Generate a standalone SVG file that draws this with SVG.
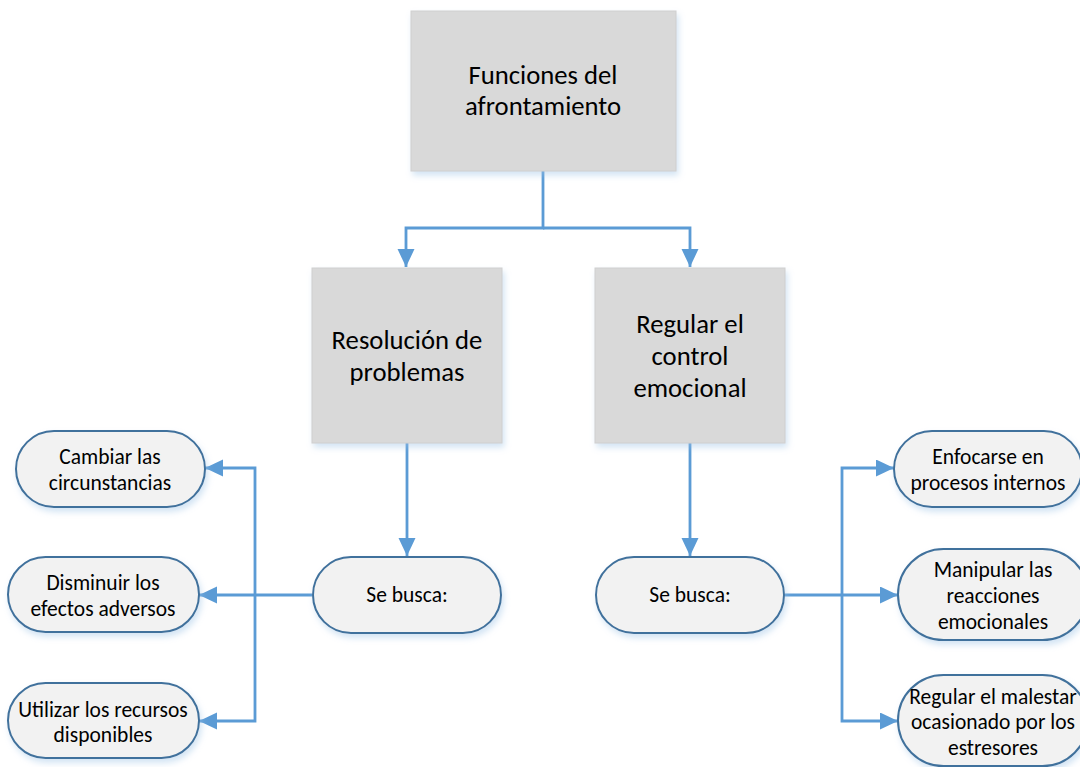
<svg xmlns="http://www.w3.org/2000/svg" width="1080" height="767" viewBox="0 0 1080 767">
<defs>
<filter id="sh" x="-10%" y="-10%" width="130%" height="130%">
<feGaussianBlur in="SourceAlpha" stdDeviation="3"/>
<feOffset dx="2" dy="4" result="b"/>
<feFlood flood-color="#9dc3e6" flood-opacity="0.45"/>
<feComposite in2="b" operator="in"/>
<feMerge><feMergeNode/><feMergeNode in="SourceGraphic"/></feMerge>
</filter>
<marker id="ah" markerWidth="19" markerHeight="19" refX="18" refY="8.5" orient="auto" markerUnits="userSpaceOnUse">
<path d="M0,0 L18,8.5 L0,17 Z" fill="#5b9bd5"/>
</marker>
</defs>
<style>
.box{fill:#d9d9d9;stroke:#cfcfcf;stroke-width:1}
.pill{fill:#f2f2f2;stroke:#41719c;stroke-width:2}
.t{font-family:Carlito,Lato,"Liberation Sans",sans-serif;fill:#000;text-anchor:middle}
.big{font-size:26.7px}
.sm{font-size:21.5px}
.c{fill:none;stroke:#5b9bd5;stroke-width:2.8}
</style>
<rect width="1080" height="767" fill="#fff"/>
<g id="connectors">
<path class="c" d="M543,171 V228 H406 V267" marker-end="url(#ah)"/>
<path class="c" d="M543,228 H690 V267" marker-end="url(#ah)"/>
<path class="c" d="M407,443 V556" marker-end="url(#ah)"/>
<path class="c" d="M690,443 V556" marker-end="url(#ah)"/>
<path class="c" d="M312,595 H199" marker-end="url(#ah)"/>
<path class="c" d="M255,595 V468 H205" marker-end="url(#ah)"/>
<path class="c" d="M255,595 V721 H199" marker-end="url(#ah)"/>
<path class="c" d="M785,595 H898" marker-end="url(#ah)"/>
<path class="c" d="M842,595 V468 H894" marker-end="url(#ah)"/>
<path class="c" d="M842,595 V721 H898" marker-end="url(#ah)"/>
</g>
<g id="n-funciones">
<rect class="box" x="411" y="11" width="265" height="160" filter="url(#sh)"/>
<text class="t big" x="543" y="84">Funciones del</text>
<text class="t big" x="543" y="115">afrontamiento</text>
</g>
<g id="n-resolucion">
<rect class="box" x="312" y="268" width="190" height="175" filter="url(#sh)"/>
<text class="t big" x="407" y="349">Resolución de</text>
<text class="t big" x="407" y="381">problemas</text>
</g>
<g id="n-regular">
<rect class="box" x="595" y="268" width="190" height="175" filter="url(#sh)"/>
<text class="t big" x="690" y="333">Regular el</text>
<text class="t big" x="690" y="365">control</text>
<text class="t big" x="690" y="397">emocional</text>
</g>
<g id="n-sebusca-left">
<rect class="pill" x="313" y="557" width="188" height="76" rx="38" filter="url(#sh)"/>
<text class="t sm" x="407" y="602">Se busca:</text>
</g>
<g id="n-sebusca-right">
<rect class="pill" x="596" y="557" width="188" height="76" rx="38" filter="url(#sh)"/>
<text class="t sm" x="690" y="602">Se busca:</text>
</g>
<g id="n-cambiar">
<rect class="pill" x="16" y="431" width="189" height="76" rx="38" filter="url(#sh)"/>
<text class="t sm" x="110" y="464">Cambiar las</text>
<text class="t sm" x="110" y="490">circunstancias</text>
</g>
<g id="n-disminuir">
<rect class="pill" x="8" y="557" width="191" height="75" rx="37.5" filter="url(#sh)"/>
<text class="t sm" x="103" y="590">Disminuir los</text>
<text class="t sm" x="103" y="616">efectos adversos</text>
</g>
<g id="n-utilizar">
<rect class="pill" x="8" y="683" width="191" height="75" rx="37.5" filter="url(#sh)"/>
<text class="t sm" x="103" y="717">Utilizar los recursos</text>
<text class="t sm" x="103" y="742">disponibles</text>
</g>
<g id="n-enfocarse">
<rect class="pill" x="894" y="431" width="188" height="76" rx="38" filter="url(#sh)"/>
<text class="t sm" x="988" y="464">Enfocarse en</text>
<text class="t sm" x="988" y="490">procesos internos</text>
</g>
<g id="n-manipular">
<rect class="pill" x="898" y="549" width="190" height="91" rx="45.5" filter="url(#sh)"/>
<text class="t sm" x="993" y="577">Manipular las</text>
<text class="t sm" x="993" y="603">reacciones</text>
<text class="t sm" x="993" y="629">emocionales</text>
</g>
<g id="n-malestar">
<rect class="pill" x="898" y="675" width="190" height="91" rx="45.5" filter="url(#sh)"/>
<text class="t sm" x="993" y="704">Regular el malestar</text>
<text class="t sm" x="993" y="729">ocasionado por los</text>
<text class="t sm" x="993" y="755">estresores</text>
</g>
</svg>
